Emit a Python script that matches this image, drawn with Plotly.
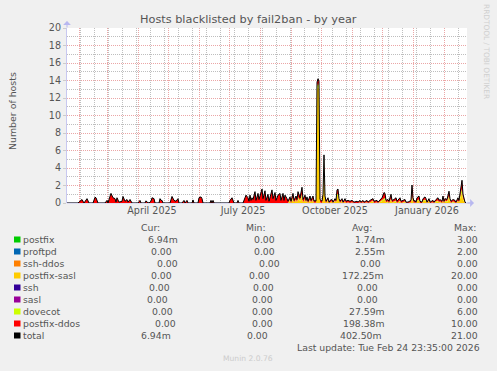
import numpy as np
import pandas as pd
import plotly.graph_objects as go

# ---------------- data ----------------
start_date = "2025-01-20"
end_date = "2026-02-24"

# days since start_date, with total hosts (early part: only postfix-ddos)
early_day = [0, 11, 13, 15, 17, 19, 20, 22, 26, 28, 29, 31, 38, 40, 41, 42, 44, 46, 48, 49,
             50, 52, 55, 56, 58, 60, 61, 63, 65, 71, 73, 74, 78, 79, 80, 82, 84, 85, 87, 88,
             92, 93, 94, 95, 96, 103, 105, 107, 109, 111, 112, 115, 117, 118, 120, 121, 125, 126, 127, 131,
             132, 134, 135, 136, 143, 144, 145, 146, 147, 162, 163, 165, 166, 167, 170, 171, 172, 176, 178, 179,
             181, 182, 183, 184, 185, 186, 188, 189, 191, 192, 195, 196, 198, 199, 201, 202, 205, 206, 208, 209,
             211, 213, 214, 216, 217, 218, 220, 221]
early_total = [0, 0, 0.2, 0.4, 0, 0.3, 0.5, 0, 0, 0.65, 0.6, 0, 0, 0.3, 0, 0.4, 1.1, 0.6, 0.5, 0.1,
               0.6, 0.1, 0.2, 0.75, 0.2, 0.4, 0.1, 0.4, 0, 0, 0.3, 0, 0, 0.25, 0.1, 0, 0.2, 0.6, 0.5, 0,
               0, 0.5, 0.3, 0.3, 0, 0, 0.75, 0.3, 0.2, 0.5, 0, 0, 0.3, 0, 0.3, 0, 0, 0.35, 0, 0,
               0.6, 0.7, 0.5, 0, 0, 0.3, 0, 0.3, 0, 0, 0.3, 0.6, 0.2, 0, 0, 0.3, 0, 0, 0.6, 0.9,
               0.6, 0.2, 0.9, 0.3, 0.6, 0.4, 1.3, 0.3, 1.1, 0.4, 1.6, 0.5, 1.4, 0.3, 1.0, 0.2, 1.5, 0.5, 1.2, 0.3,
               0.9, 1.1, 0.3, 1.1, 0.3, 0.9, 0.5, 0.2]

late_day = [223, 224, 226, 227, 229, 230, 231, 233, 235, 236, 238, 239, 240, 241, 243, 244, 246, 247, 248, 249,
            250, 251, 252, 253, 255, 256, 257, 258, 259, 261, 262, 263, 265, 266, 268, 269, 270, 271, 272, 273,
            275, 276, 278, 279, 281, 283, 285, 287, 290, 291, 293, 294, 296, 297, 300, 301, 303, 306, 307, 310,
            311, 313, 315, 317, 318, 319, 321, 322, 324, 325, 327, 329, 330, 333, 334, 336, 338, 339, 341, 344,
            345, 346, 347, 348, 349, 350, 352, 353, 355, 356, 358, 359, 360, 362, 363, 366, 367, 369, 371, 372,
            373, 375, 376, 377, 378, 380, 382, 383, 384, 386, 388, 389, 391, 392, 394, 395, 396, 397, 398, 399]
late_total = [0.7, 0.2, 1.1, 0.3, 0.8, 0.4, 1.3, 0.6, 1.8, 0.4, 0.9, 0.3, 0.7, 0.2, 0.8, 0.3, 0.8, 0.2, 0.3, 0.2,
              13.8, 14.2, 13.9, 0.4, 0.2, 1.0, 5.5, 0.8, 0.2, 0.6, 0.1, 0.3, 0.4, 0.1, 0.5, 0.3, 1.5, 1.6, 0.5, 0.2,
              0.5, 0.1, 0.5, 0.2, 0.3, 0.2, 0.3, 0.1, 0.2, 0.1, 0.3, 0.1, 0.3, 0.1, 0.3, 0.1, 0.3, 0.5, 0.2, 0.3,
              0.1, 0.4, 0.6, 1.2, 1.1, 0.3, 0.4, 0.2, 1.0, 0.3, 0.4, 0.6, 0.2, 0.6, 0.2, 0.3, 0.4, 0.1, 0.1, 0.3,
              2.05, 0.6, 0.2, 0.3, 0.1, 0.6, 0.8, 0.2, 0.1, 0.5, 0.7, 0.5, 0.1, 0.5, 0.1, 0.3, 0.1, 0.4, 0.6, 0.3,
              0.4, 0.2, 0.8, 0.2, 0.5, 0.4, 1.35, 0.5, 0.2, 0.4, 0.3, 0.1, 0.6, 0.3, 2.0, 2.6, 1.0, 0.4, 0.1, 0.0]
late_sasl = [0.3, 0, 0.4, 0.1, 0.3, 0.1, 0.5, 0.2, 0.7, 0.1, 0.4, 0.1, 0.3, 0, 0.3, 0.1, 0.3, 0, 0.1, 0,
             13.0, 13.4, 13.1, 0.1, 0, 0.8, 5.0, 0.5, 0, 0.3, 0, 0.1, 0.2, 0, 0.2, 0.1, 0.8, 0.8, 0.2, 0,
             0.2, 0, 0.2, 0, 0.1, 0, 0.1, 0, 0, 0, 0.1, 0, 0.1, 0, 0.1, 0, 0.1, 0.2, 0, 0.1,
             0, 0.1, 0.2, 0.4, 0.4, 0.1, 0.1, 0, 0.4, 0.1, 0.1, 0.2, 0, 0.2, 0, 0.1, 0.1, 0, 0, 0.1,
             0.6, 0.2, 0, 0.1, 0, 0.2, 0.3, 0, 0, 0.2, 0.3, 0.2, 0, 0.2, 0, 0.1, 0, 0.1, 0.2, 0.1,
             0.1, 0, 0.3, 0, 0.2, 0.1, 0.6, 0.2, 0, 0.1, 0.1, 0, 0.2, 0.1, 0.9, 1.2, 0.4, 0.1, 0, 0]
late_dovecot = [0.1, 0, 0.2, 0, 0.1, 0, 0.2, 0.1, 0.3, 0, 0.1, 0, 0.1, 0, 0.1, 0, 0.1, 0, 0, 0,
                0.3, 0.3, 0.3, 0, 0, 0, 0.2, 0, 0, 0.1, 0, 0, 0, 0, 0.1, 0, 0.2, 0.2, 0.1, 0,
                0.1, 0, 0, 0, 0, 0, 0, 0, 0, 0, 0, 0, 0, 0, 0, 0, 0, 0.1, 0, 0,
                0, 0.1, 0.1, 0.2, 0.2, 0, 0.1, 0, 0.1, 0, 0.1, 0.1, 0, 0.1, 0, 0, 0.1, 0, 0, 0,
                0.3, 0.1, 0, 0, 0, 0.1, 0.1, 0, 0, 0.1, 0.1, 0.1, 0, 0.1, 0, 0, 0, 0.1, 0.1, 0,
                0.1, 0, 0.1, 0, 0.1, 0.1, 0.2, 0.1, 0, 0.1, 0, 0, 0.1, 0, 0.3, 0.4, 0.2, 0.1, 0, 0]

series_names = ["postfix", "proftpd", "ssh-ddos", "postfix-sasl", "ssh", "sasl",
                "dovecot", "postfix-ddos", "total"]
series_colors = ["#00CC00", "#0066B3", "#FF8000", "#FFCC00", "#330099", "#990099",
                 "#CCFF00", "#FF0000", "#000000"]
cur_vals = ["6.94m", "0.00", "0.00", "0.00", "0.00", "0.00", "0.00", "0.00", "6.94m"]
min_vals = ["0.00", "0.00", "0.00", "0.00", "0.00", "0.00", "0.00", "0.00", "0.00"]
avg_vals = ["1.74m", "2.55m", "0.00", "172.25m", "0.00", "0.00", "27.59m", "198.38m", "402.50m"]
max_vals = ["3.00", "2.00", "0.00", "20.00", "0.00", "0.00", "6.00", "10.00", "21.00"]

month_lines = ["2025-02-01", "2025-03-01", "2025-04-01", "2025-05-01", "2025-06-01", "2025-07-01",
               "2025-08-01", "2025-09-01", "2025-10-01", "2025-11-01", "2025-12-01", "2026-01-01",
               "2026-02-01"]
label_dates = ["2025-04-15", "2025-07-15", "2025-10-15", "2026-01-15"]
label_text = ["April 2025", "July 2025", "October 2025", "January 2026"]

# ---------------- derived series ----------------
assert len(early_day) == len(early_total)
assert len(late_day) == len(late_total) == len(late_sasl) == len(late_dovecot)
days = early_day + late_day
total = np.array(early_total + late_total, dtype=float)
postfix_sasl = np.array([0.0] * len(early_day) + late_sasl, dtype=float)
dovecot = np.array([0.0] * len(early_day) + late_dovecot, dtype=float)
postfix_ddos = np.clip(total - postfix_sasl - dovecot, 0, None)
dates = pd.Timestamp(start_date) + pd.to_timedelta(days, unit="D")

# ---------------- layout geometry (pixels) ----------------
W, H = 497, 371
L, R, T, B = 67, 467, 28, 203
FONT = "DejaVu Sans"
TXT = "#555555"
MGRID = "#EBA6A6"
GRID = "#BEBEBE"
DOTS = "1px,1px"


def px(x):
    return (x - L) / (R - L)


def py(y):
    return (B - y) / (B - T)


fig = go.Figure()
for name, vals, col in [("postfix-sasl", postfix_sasl, "#FFCC00"),
                        ("dovecot", dovecot, "#CCFF00"),
                        ("postfix-ddos", postfix_ddos, "#FF0000")]:
    fig.add_trace(go.Scatter(x=dates, y=vals, name=name, mode="lines", stackgroup="one",
                             line=dict(width=0, color=col), fillcolor=col, hoverinfo="skip"))
fig.add_trace(go.Scatter(x=dates, y=total, name="total", mode="lines",
                         line=dict(width=1, color="#000000"), hoverinfo="skip"))
# invisible trace for the label axis
fig.add_trace(go.Scatter(x=[start_date, end_date], y=[0, 0], xaxis="x2", mode="lines",
                         line=dict(width=0), showlegend=False, hoverinfo="skip", opacity=0))

fig.update_layout(
    width=W, height=H,
    margin=dict(l=L, r=W - R, t=T, b=H - B, pad=0, autoexpand=False),
    paper_bgcolor="#F0F0F0", plot_bgcolor="#FFFFFF",
    showlegend=False,
    font=dict(family=FONT, size=9.3, color=TXT),
    xaxis=dict(range=[start_date, end_date], type="date", automargin=False,
               tickmode="array", tickvals=month_lines, ticktext=[""] * len(month_lines),
               showgrid=True, gridcolor=MGRID, griddash=DOTS, gridwidth=1,
               ticks="", showline=False, zeroline=False,
               minor=dict(tick0="2025-02-16", dtick=14 * 86400000, showgrid=True,
                          gridcolor=GRID, griddash=DOTS, gridwidth=1, ticks="")),
    xaxis2=dict(range=[start_date, end_date], type="date", overlaying="x", side="bottom",
                anchor="y", tickmode="array", tickvals=label_dates, ticktext=label_text,
                showgrid=False, ticks="", showline=False, zeroline=False, automargin=False,
                tickfont=dict(family=FONT, size=9.6, color=TXT)),
    yaxis=dict(range=[0, 20], tickmode="linear", tick0=0, dtick=2, automargin=False,
               showgrid=True, gridcolor=MGRID, griddash=DOTS, gridwidth=1,
               ticks="outside", ticklen=3, tickcolor="#CCCCCC",
               showline=True, linecolor="#C8C8F0", linewidth=1, zeroline=False,
               tickfont=dict(family=FONT, size=9.6, color=TXT),
               minor=dict(dtick=1, showgrid=True, gridcolor=GRID, griddash=DOTS, gridwidth=1)),
)

ann = []
shapes = []


def text(x, y, s, size=9.3, color=TXT, xanchor="left", angle=0):
    ann.append(dict(x=px(x), y=py(y), xref="paper", yref="paper", text=s, showarrow=False,
                    xanchor=xanchor, yanchor="middle", textangle=angle,
                    font=dict(family=FONT, size=size, color=color)))


# title, axis title, watermark
text(248.5, 20, "Hosts blacklisted by fail2ban - by year", size=11.3, xanchor="center")
text(12, 111, "Number of hosts", size=9.4, xanchor="center", angle=-90)
text(487, 51, "RRDTOOL / TOBI OETIKER", size=7.4, color="#CFCFCF", xanchor="center", angle=90)

# axis arrows
ann.append(dict(x=px(67), y=py(21), xref="paper", yref="paper", ax=0, ay=8, text="",
                showarrow=True, arrowhead=1, arrowsize=1.3, arrowwidth=1, arrowcolor="#B8B8F0"))
ann.append(dict(x=px(474), y=py(203), xref="paper", yref="paper", ax=-8, ay=0, text="",
                showarrow=True, arrowhead=1, arrowsize=1.3, arrowwidth=1, arrowcolor="#B8B8F0"))
shapes.append(dict(type="line", xref="paper", yref="paper", x0=px(L), x1=px(470), y0=py(203), y1=py(203),
                   line=dict(color="#C8C8F0", width=1), layer="below"))

# legend table
row_y = [239 + 12 * i for i in range(9)]
cur_x = [146, 149, 155, 149, 147, 145, 150, 153, 139]
min_x = [252, 252, 257, 247, 251, 250, 250, 250, 245]
avg_x = [353, 353, 358, 340, 355, 355, 347, 341, 338]
text(139, 227, "Cur:")
text(244, 227, "Min:")
text(350, 227, "Avg:")
text(478, 227, "Max:", xanchor="right")
for i, name in enumerate(series_names):
    y = row_y[i]
    shapes.append(dict(type="rect", xref="paper", yref="paper",
                       x0=px(14), x1=px(20.5), y0=py(y - 2.5), y1=py(y + 3.5),
                       fillcolor=series_colors[i], line=dict(width=0)))
    text(21, y, name)
    text(cur_x[i], y, cur_vals[i])
    text(min_x[i], y, min_vals[i])
    text(avg_x[i], y, avg_vals[i])
    text(479.5, y, max_vals[i], xanchor="right")

text(482, 347, "Last update: Tue Feb 24 23:35:00 2026", xanchor="right")
text(248, 358, "Munin 2.0.76", size=7.6, color="#CCCCCC", xanchor="center")

fig.update_layout(annotations=ann, shapes=shapes)
fig.write_html("out.html", config={"displayModeBar": False, "staticPlot": True},
               post_script="document.body.style.margin='0';document.body.style.padding='0';"
                           "document.body.style.background='#F0F0F0';")
